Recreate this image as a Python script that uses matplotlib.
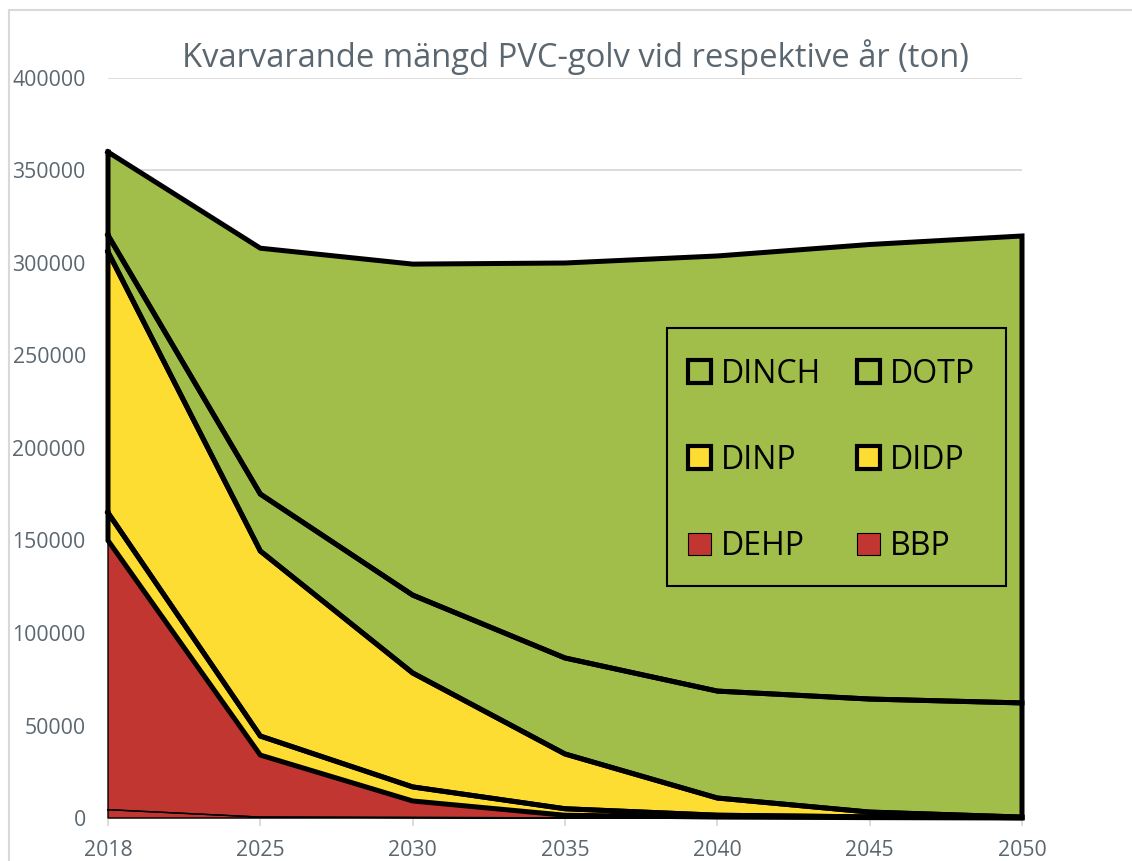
import numpy as np
import matplotlib
matplotlib.use("Agg")
import matplotlib.pyplot as plt
from matplotlib.patches import Patch, Rectangle

years = ['2018', '2025', '2030', '2035', '2040', '2045', '2050']
BBP = [4500, 500, 300, 100, 50, 0, 0]
DEHP = [145500, 33500, 8900, 1400, 450, 200, 0]
DIDP = [15000, 10300, 7600, 3500, 1000, 400, 200]
DINP = [141000, 100000, 61600, 29600, 9300, 2600, 300]
DOTP = [9000, 30800, 42100, 51900, 57800, 61100, 61700]
DINCH = [45000, 132900, 178900, 213500, 235200, 245700, 252400]

series_names = ['BBP', 'DEHP', 'DIDP', 'DINP', 'DOTP', 'DINCH']
series_vals = [BBP, DEHP, DIDP, DINP, DOTP, DINCH]

RED = '#C23632'
YEL = '#FEDD32'
GRN = '#A1BE4A'
colors = [RED, RED, YEL, YEL, GRN, GRN]
edge_w = [1.0, 1.0, 3.6, 3.6, 3.6, 3.6]
TXT = '#5b6770'
GRID = '#d9d9d9'

plt.rcParams['font.family'] = ['Open Sans', 'DejaVu Sans']

fig = plt.figure(figsize=(11.32, 8.61), dpi=100)
W, H = 1132, 861
ax = fig.add_axes([108 / W, (H - 818) / H, 914 / W, 740 / H])

x = np.arange(len(years))
base = np.zeros(len(years))
polys = []
for name, vals, c in zip(series_names, series_vals, colors):
    top = base + np.array(vals, dtype=float)
    ax.fill_between(x, base, top, facecolor=c, edgecolor='none', zorder=2)
    polys.append((base.copy(), top.copy()))
    base = top

for (b, t), lw in zip(polys, edge_w):
    xs = np.concatenate([x, x[::-1], x[:1]])
    ys = np.concatenate([t, b[::-1], t[:1]])
    ax.plot(xs, ys, color='black', lw=lw, zorder=3, solid_joinstyle='miter',
            clip_on=False)

ax.set_xlim(0, len(years) - 1)
ax.set_ylim(0, 400000)
ax.set_yticks(np.arange(0, 400001, 50000))
ax.set_yticklabels([str(v) for v in range(0, 400001, 50000)])
ax.set_xticks(x)
ax.set_xticklabels(years)
ax.yaxis.grid(True, color=GRID, lw=1.3, zorder=0)
ax.set_axisbelow(True)
for s in ['left', 'right', 'top']:
    ax.spines[s].set_visible(False)
ax.spines['bottom'].set_color(GRID)
ax.spines['bottom'].set_linewidth(1.5)
ax.spines['bottom'].set_zorder(1)
ax.tick_params(axis='y', length=0, pad=16, labelsize=15.3, labelcolor=TXT)
ax.tick_params(axis='x', length=6, width=1.3, color=GRID, pad=10,
               labelsize=15.3, labelcolor=TXT)

# title
fig.text(575 / W, 1 - 57 / H, 'Kvarvarande mängd PVC-golv vid respektive år (ton)',
         ha='center', va='center', fontsize=23.6, color=TXT)

# chart border
fig.add_artist(Rectangle((9 / W, -0.1), 1.2, 1 - 10 / H + 0.1, transform=fig.transFigure,
                         fill=False, edgecolor=GRID, lw=1.5))

# legend box
lx0, lx1, ly0, ly1 = 667, 1006, 328, 586
def ax_frac(px, py):
    return ((px - 108) / 914, (818 - py) / 740)
bx0, by1 = ax_frac(lx0, ly0)
bx1, by0 = ax_frac(lx1, ly1)
ax.add_patch(Rectangle((bx0, by0), bx1 - bx0, by1 - by0, transform=ax.transAxes,
                       fill=False, edgecolor='black', lw=1.5, zorder=5))

def handle(name):
    i = series_names.index(name)
    lw = 3.0 if edge_w[i] > 2 else 0.8
    return Patch(facecolor=colors[i], edgecolor='black', lw=lw, label=name)

order = ['DINCH', 'DINP', 'DEHP', 'DOTP', 'DIDP', 'BBP']
leg = ax.legend(handles=[handle(n) for n in order], ncol=2, frameon=False,
                loc='upper left', bbox_to_anchor=ax_frac(688, 358),
                bbox_transform=ax.transAxes, borderaxespad=0, borderpad=0,
                fontsize=23, handlelength=0.72, handleheight=0.72,
                handletextpad=0.32, columnspacing=1.1, labelspacing=1.66)
leg.set_zorder(6)

fig.savefig('out.png', dpi=100)
